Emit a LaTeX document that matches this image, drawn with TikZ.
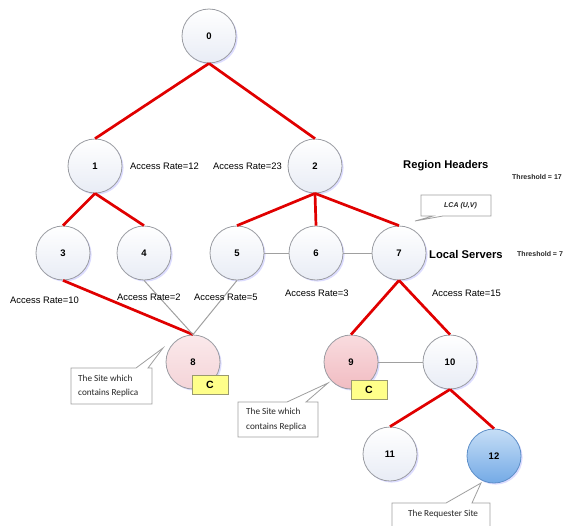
\documentclass[tikz,border=0pt]{standalone}
\usepackage{fontspec}
\setmainfont{Liberation Sans}
\newfontfamily\callfont{Carlito}
\usetikzlibrary{shadows}
\definecolor{sitetop}{HTML}{FFFFFF}
\definecolor{sitebot}{HTML}{E8ECF5}
\definecolor{sitering}{HTML}{9A9CA2}
\definecolor{pinktop}{HTML}{FBE9EB}
\definecolor{pinkbot}{HTML}{F4D4D8}
\definecolor{rosetop}{HTML}{F9DCDF}
\definecolor{rosebot}{HTML}{F1BCC2}
\definecolor{bluetop}{HTML}{C6DEF6}
\definecolor{bluebot}{HTML}{74AAE6}
\definecolor{bluering}{HTML}{5E8FC8}
\definecolor{treered}{HTML}{E00000}
\definecolor{linkgray}{HTML}{A0A0A0}
\definecolor{tagfill}{HTML}{FFFF8A}
\definecolor{tagring}{HTML}{9A9A70}
\begin{document}
\begin{tikzpicture}[x=1pt,y=-1pt,
  site/.style={circle, draw=sitering, line width=0.8pt, minimum size=54pt,
    inner sep=0pt, font=\fontsize{9.5}{10}\selectfont\bfseries,
    top color=sitetop, bottom color=sitebot,
    drop shadow={shadow xshift=1.6pt, shadow yshift=-1.6pt, fill=blue!30, opacity=0.45}},
  replica/.style={site, top color=pinktop, bottom color=pinkbot},
  replicab/.style={site, top color=rosetop, bottom color=rosebot},
  requester/.style={site, draw=bluering, top color=bluetop, bottom color=bluebot},
  tree/.style={treered, line width=2.7pt},
  link/.style={linkgray, line width=1pt},
  rate/.style={anchor=west, inner sep=0pt, font=\fontsize{9.4}{10}\selectfont},
  level/.style={anchor=west, inner sep=0pt, font=\fontsize{11.2}{12}\selectfont\bfseries},
  thresh/.style={anchor=west, inner sep=0pt, font=\fontsize{7}{7}\selectfont\bfseries, text=black!85},
  tag/.style={rectangle, draw=tagring, line width=0.7pt, fill=tagfill,
    minimum width=36pt, minimum height=19pt, inner sep=0pt,
    font=\fontsize{10.5}{11}\selectfont\bfseries},
  callout/.style={draw=gray!75, line width=0.8pt, fill=white},
  calltext/.style={anchor=west, inner sep=0pt, align=left,
    font=\callfont\fontsize{9.2}{14.5}\selectfont, text=black!85}
]
\useasboundingbox (0,0) rectangle (565,525);

% sites
\node[site] (n0) at (209,36) {0};
\node[site] (n1) at (95,166) {1};
\node[site] (n2) at (315,166) {2};
\node[site] (n3) at (63,253) {3};
\node[site] (n4) at (144,253) {4};
\node[site] (n5) at (237,253) {5};
\node[site] (n6) at (316,253) {6};
\node[site] (n7) at (399,253) {7};
\node[replica] (n8) at (193,362) {8};
\node[replicab] (n9) at (351,362) {9};
\node[site] (n10) at (450,362) {10};
\node[site] (n11) at (390,454) {11};
\node[requester] (n12) at (494,456) {12};

% tree edges
\draw[tree] (n0.south) -- (n1.north);
\draw[tree] (n0.south) -- (n2.north);
\draw[tree] (n1.south) -- (n3.north);
\draw[tree] (n1.south) -- (n4.north);
\draw[tree] (n2.south) -- (n5.north);
\draw[tree] (n2.south) -- (n6.north);
\draw[tree] (n2.south) -- (n7.north);
\draw[tree] (n3.south) -- (n8.north);
\draw[tree] (n7.south) -- (n9.north);
\draw[tree] (n7.south) -- (n10.north);
\draw[tree] (n10.south) -- (n11.north);
\draw[tree] (n10.south) -- (n12.north);

% peer links
\draw[link] (n5.east) -- (n6.west);
\draw[link] (n6.east) -- (n7.west);
\draw[link] (n9.east) -- (n10.west);
\draw[link] (n4.south) -- (n8.north);
\draw[link] (n5.south) -- (n8.north);

% replica tags
\node[tag] (c8) at (210,384.5) {C};
\node[tag] (c9) at (369,390) {C};

% access rates
\node[rate] (r12) at (130,166) {Access Rate=12};
\node[rate] (r23) at (213,166) {Access Rate=23};
\node[rate] (r10) at (10,300) {Access Rate=10};
\node[rate] (r2) at (117,297) {Access Rate=2};
\node[rate] (r5) at (194,297) {Access Rate=5};
\node[rate] (r3) at (285,293) {Access Rate=3};
\node[rate] (r15) at (432,293) {Access Rate=15};

% levels and thresholds
\node[level] (hdr) at (403,166) {Region Headers};
\node[level] (loc) at (429,254) {Local Servers};
\node[thresh] (t17) at (512,177) {Threshold = 17};
\node[thresh] (t7) at (517,254) {Threshold = 7};

% callouts
\coordinate (tipLCA) at (415,221);
\draw[callout] (421,195) -- (491,195) -- (491,216) -- (443,216) -- (tipLCA)
  -- (433,216) -- (421,216) -- cycle;
\node[anchor=west, inner sep=0pt, font=\fontsize{7}{7}\selectfont\bfseries\itshape, text=black!85]
  (lca) at (444,206) {LCA (U,V)};

\coordinate (tip8) at (163,348);
\draw[callout] (71,368) -- (136,368) -- (tip8) -- (148,368) -- (152,368)
  -- (152,404) -- (71,404) -- cycle;
\node[calltext] (s8) at (78,386) {The Site which\\contains Replica};

\coordinate (tip9) at (328,383);
\draw[callout] (238,402) -- (287,402) -- (tip9) -- (306,402) -- (318,402)
  -- (318,437) -- (238,437) -- cycle;
\node[calltext] (s9) at (246,419.5) {The Site which\\contains Replica};

\coordinate (tip12) at (481,483);
\draw[callout] (392,527) -- (392,503) -- (446,503) -- (tip12) -- (472,503)
  -- (490,503) -- (490,527);
\node[calltext] (s12) at (408,514) {The Requester Site};
\end{tikzpicture}
\end{document}
